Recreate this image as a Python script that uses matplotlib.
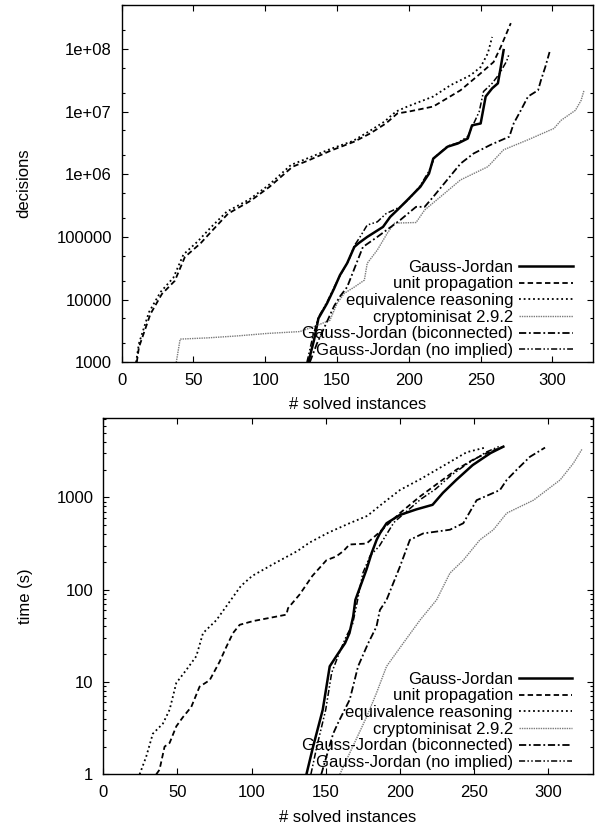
import matplotlib
matplotlib.use("Agg")
import matplotlib.pyplot as plt
import numpy as np
from matplotlib.ticker import FixedLocator, FixedFormatter, LogLocator, NullFormatter

plt.rcParams['font.family'] = ['Liberation Sans', 'DejaVu Sans']
plt.rcParams['font.size'] = 12

labels = ["Gauss-Jordan", "unit propagation", "equivalence reasoning",
          "cryptominisat 2.9.2", "Gauss-Jordan (biconnected)", "Gauss-Jordan (no implied)"]

# --- decisions (top panel), y given as log10(decisions)
dec_gj_x = [130, 134, 137, 143, 148, 152, 157, 162, 165, 171, 182, 187, 192, 199, 208, 214, 217,
            227, 234, 241, 244, 250, 253.5, 258, 262, 264, 266]
dec_gj_y = [3.0, 3.36, 3.7, 3.94, 4.18, 4.39, 4.58, 4.84, 4.9, 5.0, 5.16, 5.32, 5.43, 5.59, 5.8, 6.01, 6.25,
            6.44, 6.49, 6.57, 6.78, 6.81, 7.24, 7.37, 7.45, 7.71, 7.98]
dec_up_x = [10.5, 12, 20, 28, 37, 44, 55, 63, 74, 90, 103, 119, 130, 146, 162, 173, 184, 192, 200,
            217, 236, 250, 259, 264, 271]
dec_up_y = [3.0, 3.24, 3.77, 4.09, 4.3, 4.68, 4.9, 5.1, 5.37, 5.58, 5.8, 6.12, 6.22, 6.38, 6.52, 6.65,
            6.81, 6.97, 7.0, 7.08, 7.34, 7.61, 7.79, 8.03, 8.41]
dec_eq_x = [10, 12, 19, 27, 36, 43, 53, 62, 73, 89, 102, 118, 129, 145, 161, 172, 183, 191, 199,
            217, 229, 243, 250, 255, 258]
dec_eq_y = [3.0, 3.3, 3.8, 4.12, 4.35, 4.72, 4.93, 5.15, 5.4, 5.6, 5.82, 6.15, 6.25, 6.4, 6.53, 6.68,
            6.84, 7.0, 7.08, 7.24, 7.42, 7.58, 7.71, 7.93, 8.19]
dec_cm_x = [38, 40.7, 60, 80, 101, 124, 134, 145, 150, 155, 162, 169, 171, 178, 185, 190, 205, 211,
            222, 236, 255, 266, 283, 301, 306, 316, 320, 322]
dec_cm_y = [3.0, 3.37, 3.39, 3.42, 3.46, 3.49, 3.57, 3.67, 3.94, 4.1, 4.2, 4.31, 4.58, 4.79, 5.06, 5.22,
            5.23, 5.43, 5.64, 5.91, 6.12, 6.39, 6.55, 6.73, 6.86, 7.02, 7.18, 7.34]
dec_bc_x = [131, 136, 142, 148, 152, 157, 163, 168, 178, 194, 205, 211, 217, 236, 245, 257, 270, 273,
            278, 283, 290, 292, 295, 298]
dec_bc_y = [3.0, 3.3, 3.6, 3.9, 4.05, 4.2, 4.55, 4.84, 5.0, 5.27, 5.48, 5.48, 5.64, 6.17, 6.33, 6.47,
            6.6, 6.81, 7.02, 7.24, 7.34, 7.5, 7.71, 7.95]
dec_ni_x = [129, 133, 137, 143, 148, 153, 158, 162, 166, 171, 178, 184, 194, 200, 208, 214, 218, 227,
            234, 241, 245, 249, 252, 258, 263, 268, 270]
dec_ni_y = [3.0, 3.4, 3.72, 3.96, 4.2, 4.42, 4.62, 4.86, 5.0, 5.19, 5.24, 5.37, 5.48, 5.6, 5.82, 6.05,
            6.27, 6.45, 6.5, 6.6, 6.8, 7.0, 7.32, 7.45, 7.6, 7.8, 7.93]

# --- time (bottom panel), y given as log10(seconds)
t_gj_x = [137, 141.5, 148, 152.7, 158.4, 163, 166, 168.5, 170, 177.5, 181, 184.3, 186.5, 191, 200, 211,
          222, 229, 238, 249, 261, 269.7]
t_gj_y = [0.0, 0.3, 0.7, 1.17, 1.31, 1.42, 1.53, 1.71, 1.89, 2.22, 2.4, 2.54, 2.61, 2.72, 2.81, 2.87,
          2.92, 3.05, 3.19, 3.35, 3.48, 3.55]
t_up_x = [35.8, 38, 41.4, 44.8, 49.3, 53.8, 59.4, 65, 71.8, 78.5, 83, 87.5, 92, 101, 123.5, 124.6, 132.5,
          141, 150.5, 157, 162, 166, 177.5, 185.3, 200, 213.5, 227, 238, 249.4, 258.5, 269.7]
t_up_y = [0.0, 0.05, 0.3, 0.34, 0.52, 0.62, 0.73, 0.95, 1.02, 1.22, 1.38, 1.53, 1.62, 1.66, 1.73, 1.8,
          1.95, 2.15, 2.32, 2.36, 2.42, 2.49, 2.5, 2.61, 2.83, 3.01, 3.17, 3.3, 3.41, 3.48, 3.55]
t_eq_x = [24.6, 29, 33.5, 40.3, 44.8, 49.3, 56, 62.8, 67.3, 76.3, 83, 92.8, 100.5, 116, 131, 139, 152,
          166, 178, 188, 200, 214, 229, 245, 257.5]
t_eq_y = [0.0, 0.19, 0.44, 0.55, 0.7, 0.99, 1.13, 1.28, 1.53, 1.67, 1.82, 2.04, 2.15, 2.29, 2.42, 2.51,
          2.62, 2.72, 2.8, 2.93, 3.08, 3.2, 3.34, 3.49, 3.54]
t_cm_x = [159.5, 177.5, 184.2, 191, 202.2, 213.5, 224.7, 233.7, 242.7, 253.9, 263, 272, 290, 299, 308,
          316.9, 322.6]
t_cm_y = [0.0, 0.62, 0.88, 1.17, 1.42, 1.67, 1.89, 2.18, 2.32, 2.54, 2.65, 2.83, 2.97, 3.08, 3.19,
          3.37, 3.52]
t_bc_x = [147, 155, 158.4, 166.2, 171.8, 178.6, 184.2, 186.5, 191, 200, 206.7, 215.7, 233.7, 242.7,
          251.7, 267.4, 272, 278.7, 287.6, 297.8]
t_bc_y = [0.0, 0.44, 0.56, 0.81, 1.17, 1.42, 1.6, 1.78, 1.89, 2.25, 2.54, 2.61, 2.65, 2.72, 2.97, 3.08,
          3.19, 3.3, 3.44, 3.54]
t_ni_x = [140, 144, 150, 154, 160, 164, 168, 171, 175, 180, 186, 196, 201, 214, 224, 234.5, 245, 258, 268]
t_ni_y = [0.0, 0.3, 0.7, 1.1, 1.35, 1.5, 1.62, 1.85, 2.18, 2.37, 2.47, 2.73, 2.8, 2.98, 3.09, 3.24,
          3.36, 3.49, 3.56]

dec_ticks = [1e3, 1e4, 1e5, 1e6, 1e7, 1e8]
dec_ticklabels = ["1000", "10000", "100000", "1e+06", "1e+07", "1e+08"]
time_ticks = [1, 10, 100, 1000]
time_ticklabels = ["1", "10", "100", "1000"]
x_ticks = [0, 50, 100, 150, 200, 250, 300]

styles = [
    dict(color="black", lw=1.8, ls="-"),
    dict(color="black", lw=1.3, ls=(0, (3, 1.8))),
    dict(color="black", lw=1.3, ls=(0, (1, 1.6))),
    dict(color="#7a7a7a", lw=1.0, ls=(0, (1, 0.7))),
    dict(color="black", lw=1.3, ls=(0, (4, 1.5, 1, 1.5))),
    dict(color="black", lw=1.1, ls=(0, (4, 1.5, 1, 1.5, 1, 1.5))),
]

fig = plt.figure(figsize=(6.01, 8.27), dpi=100)
ax1 = fig.add_axes([0.2025, 0.5619, 0.7836, 0.4320])
ax2 = fig.add_axes([0.1716, 0.0637, 0.8148, 0.4305])

top_series = [(dec_gj_x, dec_gj_y), (dec_up_x, dec_up_y), (dec_eq_x, dec_eq_y),
              (dec_cm_x, dec_cm_y), (dec_bc_x, dec_bc_y), (dec_ni_x, dec_ni_y)]
bot_series = [(t_gj_x, t_gj_y), (t_up_x, t_up_y), (t_eq_x, t_eq_y),
              (t_cm_x, t_cm_y), (t_bc_x, t_bc_y), (t_ni_x, t_ni_y)]


def draw(ax, series, ylim, ticks, ticklabels, subs, ylabel, xmax, ylabel_x, xlabel_y):
    for (xs, ys), lab, st in zip(series, labels, styles):
        ax.plot(xs, 10 ** np.array(ys), label=lab, **st)
    ax.set_yscale("log")
    ax.set_xlim(0, xmax)
    ax.set_ylim(*ylim)
    ax.yaxis.set_major_locator(FixedLocator(ticks))
    ax.yaxis.set_major_formatter(FixedFormatter(ticklabels))
    ax.yaxis.set_minor_locator(LogLocator(base=10, subs=subs, numticks=20))
    ax.yaxis.set_minor_formatter(NullFormatter())
    ax.set_xticks(x_ticks)
    ax.tick_params(which="both", direction="in", top=True, right=True, width=0.8)
    ax.tick_params(which="major", length=4.5, pad=7)
    ax.tick_params(which="minor", length=2.5)
    ax.tick_params(axis="x", pad=8)
    for sp in ax.spines.values():
        sp.set_linewidth(1.0)
    ax.set_xlabel("# solved instances")
    ax.set_ylabel(ylabel)
    ax.yaxis.set_label_coords(ylabel_x, 0.5)
    ax.xaxis.set_label_coords(0.5, xlabel_y)
    ax.legend(loc="lower right", bbox_to_anchor=(0.9575, 0.012), frameon=False,
              markerfirst=False, handlelength=3.2, handletextpad=0.35,
              labelspacing=0.1, borderpad=0, borderaxespad=0)


draw(ax1, top_series, (1e3, 5e8), dec_ticks, dec_ticklabels, (2, 5), "decisions", 328, -0.193, -0.098)
draw(ax2, bot_series, (1, 7200), time_ticks, time_ticklabels, np.arange(2, 10), "time (s)", 330, -0.143, -0.1)

fig.savefig("out.png", dpi=100)
